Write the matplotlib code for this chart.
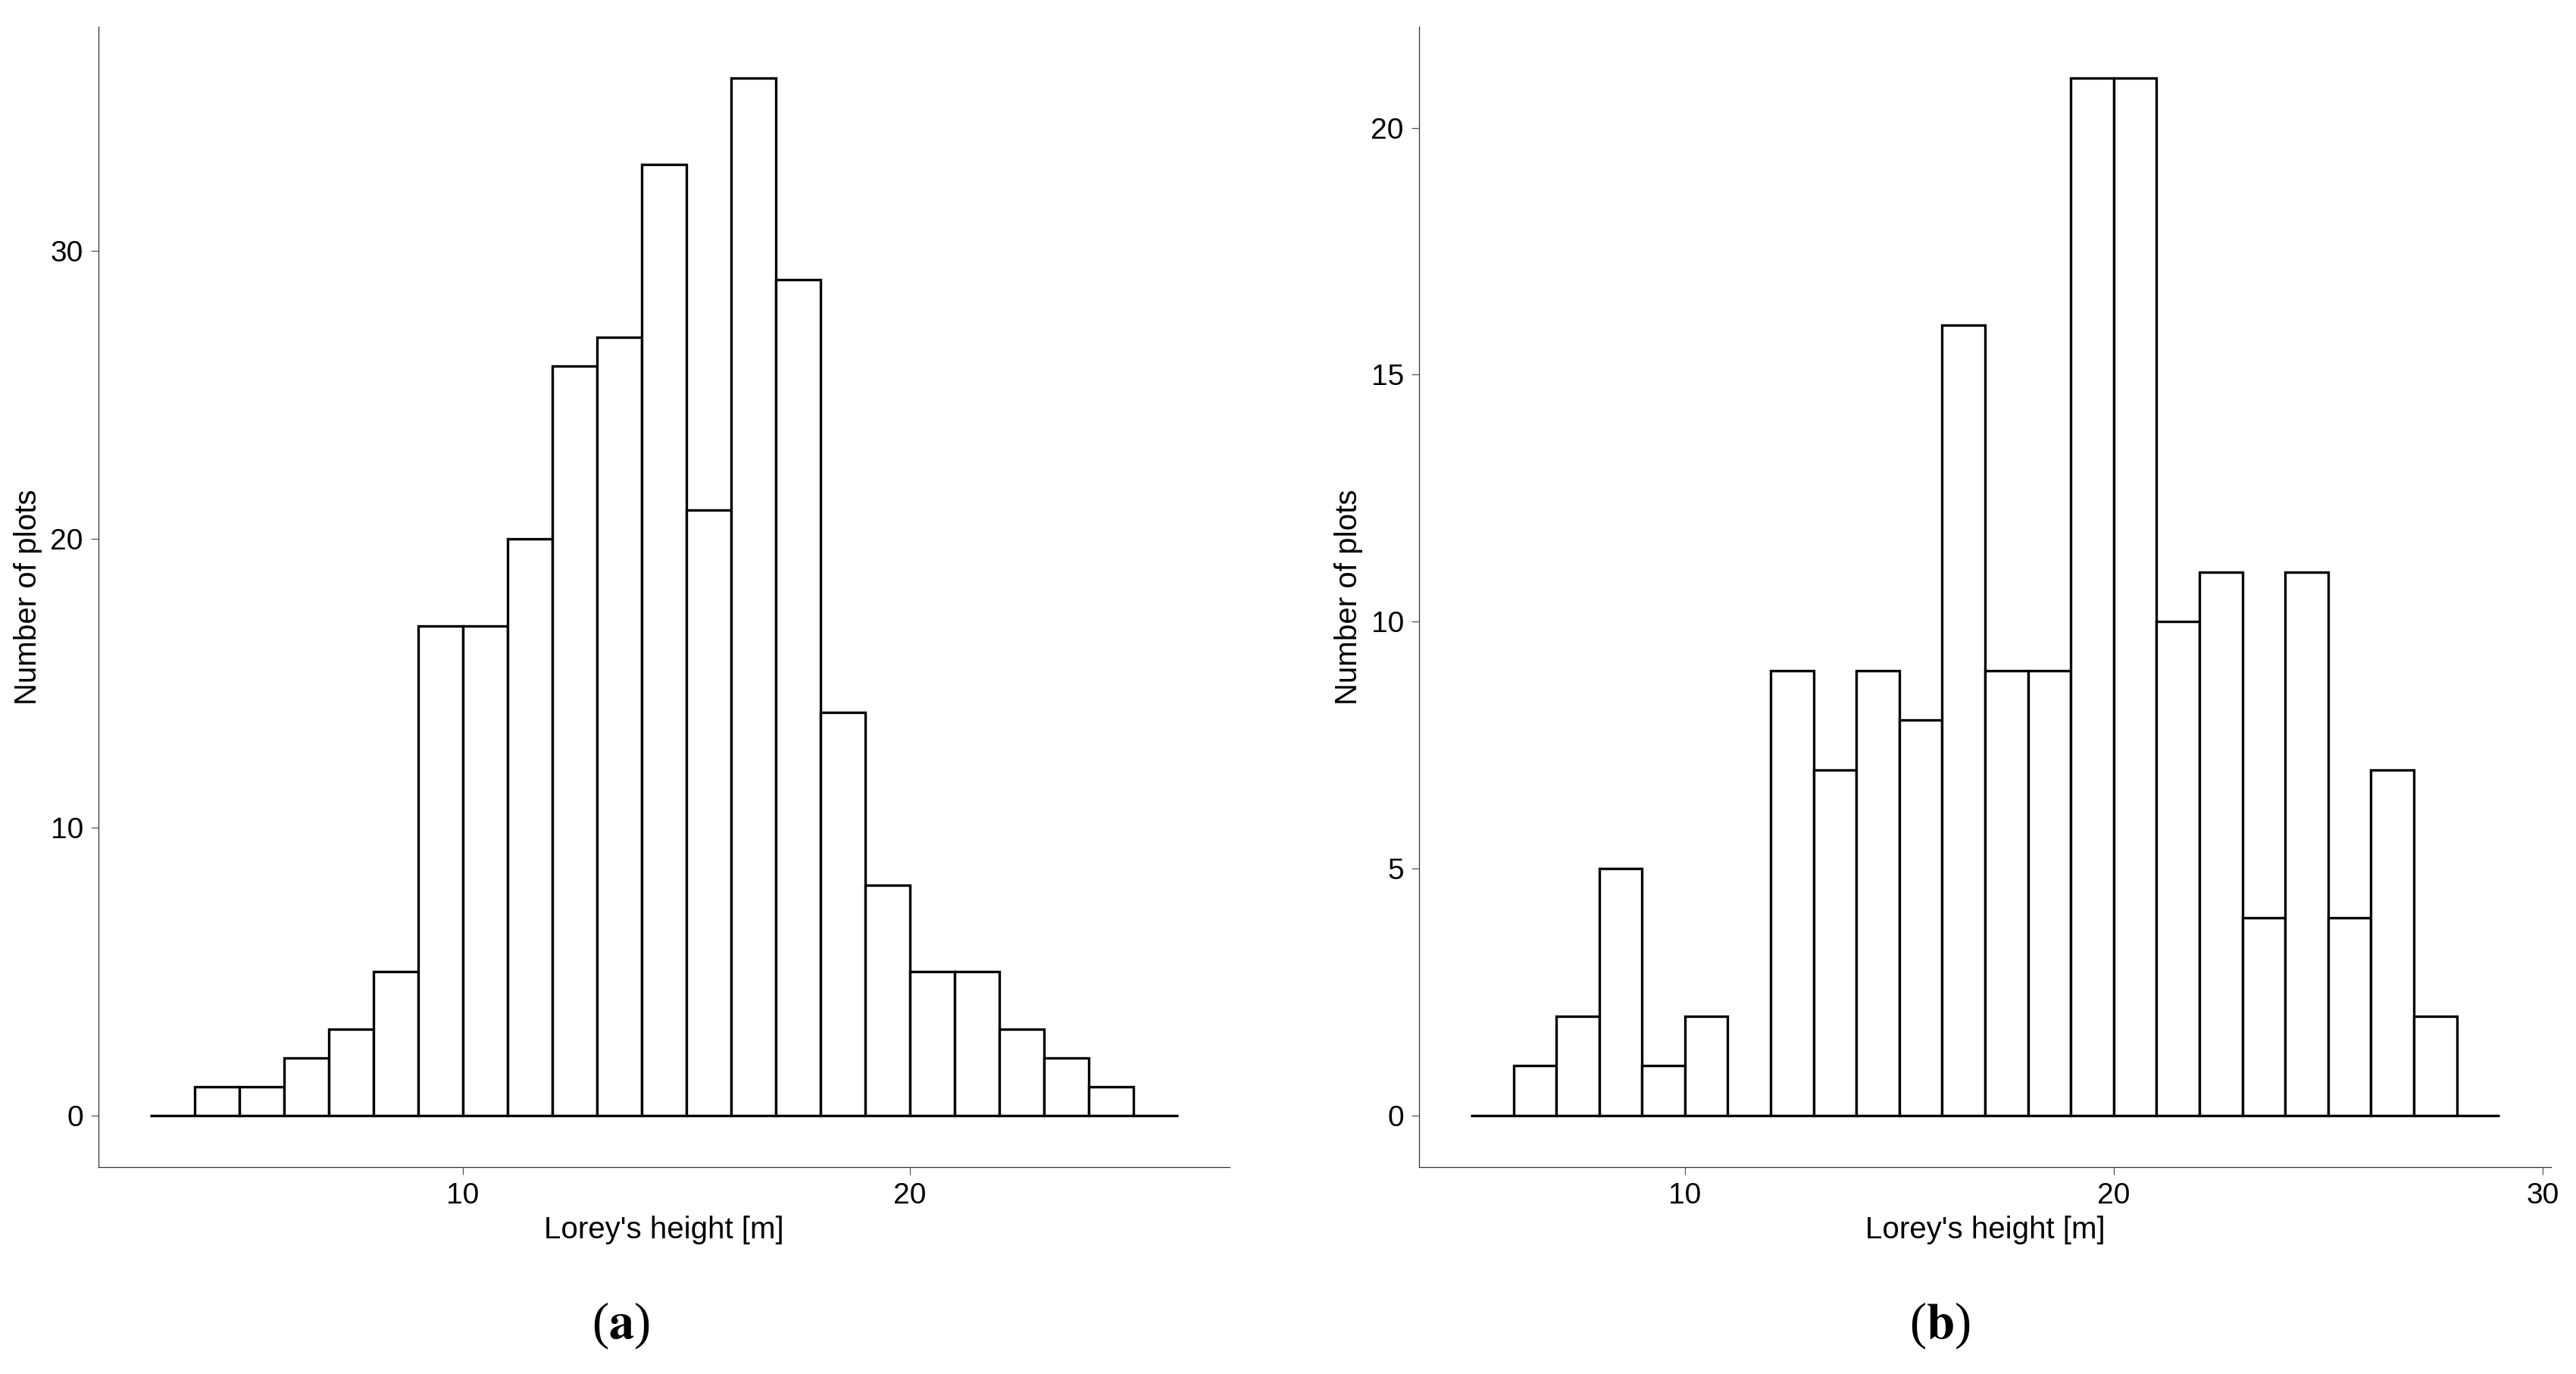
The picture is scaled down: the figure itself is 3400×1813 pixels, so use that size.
import matplotlib
matplotlib.use("Agg")
import matplotlib.pyplot as plt

# Data: histogram bin left edges (width 1 m) and counts
edges_a = list(range(3, 26))
counts_a = [0, 1, 1, 2, 3, 5, 17, 17, 20, 26, 27, 33, 21, 36, 29, 14, 8, 5, 5, 3, 2, 1, 0]
edges_b = list(range(5, 29))
counts_b = [0, 1, 2, 5, 1, 2, 0, 9, 7, 9, 8, 16, 9, 9, 21, 21, 10, 11, 4, 11, 4, 7, 2, 0]

xticks_a = [10, 20]
yticks_a = [0, 10, 20, 30]
xticks_b = [10, 20, 30]
yticks_b = [0, 5, 10, 15, 20]

xlabel = "Lorey's height [m]"
ylabel = "Number of plots"
panel_labels = ["a", "b"]

plt.rcParams['font.family'] = ['Liberation Sans', 'DejaVu Sans']
plt.rcParams['mathtext.fontset'] = 'stix'

W, H = 3400, 1813
fig = plt.figure(figsize=(W / 100, H / 100), dpi=100)

def px_axes(x0, x1, y0, y1):
    return fig.add_axes([x0 / W, 1 - y1 / H, (x1 - x0) / W, (y1 - y0) / H])

ax_a = px_axes(130, 1623, 35, 1540)
ax_b = px_axes(1873, 3367, 35, 1540)

def style(ax, edges, counts, xt, yt, xlim, ylim, width_px):
    ax.bar(edges, counts, width=1.0, align='edge', facecolor='white',
           edgecolor='black', linewidth=2.4, zorder=3)
    ax.set_xlim(*xlim)
    ax.set_ylim(*ylim)
    ax.set_xticks(xt)
    ax.set_yticks(yt)
    for s in ['top', 'right']:
        ax.spines[s].set_visible(False)
    for s in ['left', 'bottom']:
        ax.spines[s].set_color('#333333')
        ax.spines[s].set_linewidth(0.9)
    ax.tick_params(axis='both', length=7.5, width=0.9, color='#555555',
                   labelsize=28, labelcolor='black', pad=7)
    ax.set_xlabel(xlabel, fontsize=29, labelpad=6)
    ax.set_ylabel(ylabel, fontsize=29, va='center')
    ax.yaxis.set_label_coords(-93 / width_px, 0.5)

style(ax_a, edges_a, counts_a, xticks_a, yticks_a, (1.85, 27.15), (-1.8, 37.8), 1493)
style(ax_b, edges_b, counts_b, xticks_b, yticks_b, (3.8, 30.2), (-1.05, 22.05), 1494)

fig.text(819 / W, 1 - 1749 / H, r'($\mathbf{%s}$)' % panel_labels[0], ha='center', va='center',
         fontsize=48, family=['Liberation Serif', 'DejaVu Serif'])
fig.text(2560 / W, 1 - 1749 / H, r'($\mathbf{%s}$)' % panel_labels[1], ha='center', va='center',
         fontsize=48, family=['Liberation Serif', 'DejaVu Serif'])

fig.savefig('out.png', dpi=100, facecolor='white')
